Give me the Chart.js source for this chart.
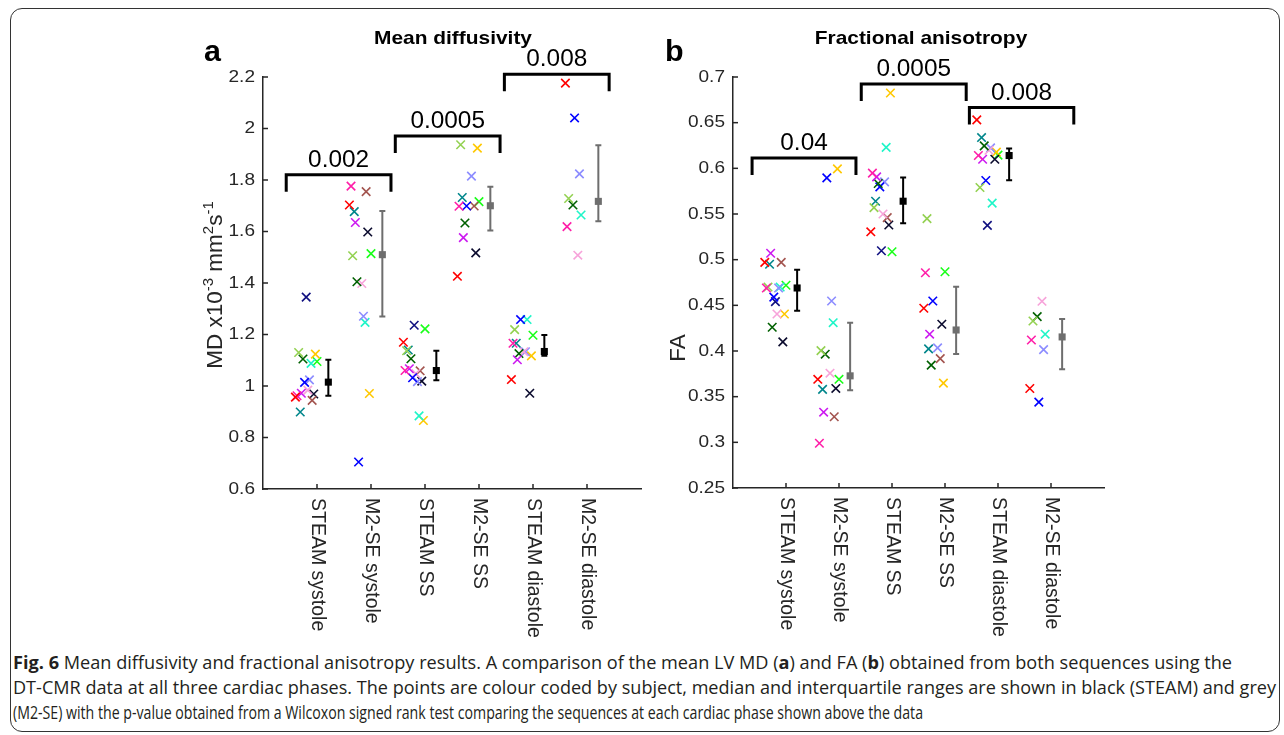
<!DOCTYPE html>
<html>
<head>
<meta charset="utf-8">
<script src="https://cdn.jsdelivr.net/npm/chart.js@4.4.1/dist/chart.umd.min.js"></script>
<style>
  html, body { margin: 0; padding: 0; background: #fff; }
  body { width: 1284px; height: 735px; position: relative; overflow: hidden; }
  .frame { position: absolute; left: 10px; top: 8px; width: 1270px; height: 724px; border: 1.5px solid #333; border-radius: 12px; box-sizing: border-box; }
  canvas { position: absolute; top: 0; }
  #mdChart { left: 150px; }
  #faChart { left: 660px; }
  .caption { position: absolute; left: 13px; font-family: 'Open Sans', sans-serif; font-size: 18px; line-height: 24px; color: #231f20; white-space: nowrap; transform-origin: 0 0; }
</style>
</head>
<body>
<div class="frame"></div>
<canvas id="mdChart" width="510" height="650"></canvas>
<canvas id="faChart" width="470" height="650"></canvas>
<div class="caption" data-w="1219" style="top:650px"><b>Fig. 6</b> Mean diffusivity and fractional anisotropy results. A comparison of the mean LV MD (<b>a</b>) and FA (<b>b</b>) obtained from both sequences using the</div>
<div class="caption" data-w="1263" style="top:675px">DT-CMR data at all three cardiac phases. The points are colour coded by subject, median and interquartile ranges are shown in black (STEAM) and grey</div>
<div class="caption" data-w="910" style="top:700px">(M2-SE) with the p-value obtained from a Wilcoxon signed rank test comparing the sequences at each cardiac phase shown above the data</div>
<script>
const categories = ['STEAM systole', 'M2-SE systole', 'STEAM SS', 'M2-SE SS', 'STEAM diastole', 'M2-SE diastole'];

// subjects, in the order they are spread left to right inside each group
const subjectColors = ['#ff0000', '#ff1ea8', '#93d151', '#00868b', '#cc19f0', '#006000', '#0000ff', '#101080',
                       '#f7a3da', '#8c8cff', '#1ff5c8', '#a3544f', '#0b0b2e', '#ffc800', '#19ff19'];
const subjectOffset = [-0.40, -0.37, -0.34, -0.31, -0.29, -0.26, -0.23, -0.20, -0.17, -0.14, -0.11, -0.09, -0.06, -0.03, 0];

// Mean diffusivity (x10^-3 mm^2/s)
const mdSteamSys = [0.957, 0.962, 1.130, 0.899, 0.972, 1.105, 1.014, 1.345, 0.984, 1.024, 1.088, 0.944, 0.969, 1.124, 1.095];
const mdM2seSys  = [1.703, 1.776, 1.506, 1.677, 1.635, 1.405, 0.705, null, 1.398, 1.271, 1.247, 1.755, 1.598, 0.971, 1.514];
const mdSteamSS  = [1.170, 1.060, 1.137, 1.140, 1.067, 1.106, 1.032, 1.236, 1.048, 1.017, 0.884, 1.059, 1.019, 0.866, 1.222];
const mdM2seSS   = [1.426, 1.698, 1.937, 1.732, 1.576, 1.633, 1.699, null, null, 1.815, null, 1.699, 1.517, 1.924, 1.716];
const mdSteamDia = [1.025, 1.166, 1.219, 1.166, 1.102, 1.126, 1.258, null, 1.133, 1.133, 1.258, null, 0.972, 1.117, 1.197];
const mdM2seDia  = [2.176, 1.619, 1.728, null, null, 1.703, 2.041, null, 1.508, 1.824, 1.664, null, null, null, null];
const mdMedian = [1.015, 1.510, 1.060, 1.700, 1.134, 1.717];
const mdQ1     = [0.962, 1.270, 1.022, 1.604, 1.117, 1.640];
const mdQ3     = [1.102, 1.680, 1.137, 1.774, 1.198, 1.935];
const mdPValues = ['0.002', '0.0005', '0.008'];
const mdBracketStart = [0.43, 2.45, 4.47];
const mdBracketEnd   = [2.37, 4.39, 6.41];
const mdBracketY     = [1.820, 1.971, 2.211];

// Fractional anisotropy
const faSteamSys = [0.497, 0.469, 0.470, 0.495, 0.507, 0.426, 0.459, 0.454, 0.4405, 0.469, 0.470, 0.497, 0.410, 0.4405, 0.472];
const faM2seSys  = [0.369, 0.299, 0.4004, 0.358, 0.333, 0.3965, 0.5896, null, 0.3757, 0.4548, 0.431, 0.328, 0.359, 0.5994, 0.369];
const faSteamSS  = [0.5305, 0.5947, 0.557, 0.564, 0.5907, 0.5834, 0.5797, 0.5098, 0.550, 0.5852, 0.623, 0.546, 0.538, 0.6825, 0.5087];
const faM2seSS   = [0.4468, 0.4857, 0.545, 0.4023, 0.4184, 0.3845, 0.4548, null, null, 0.4034, null, 0.3917, 0.4293, 0.3648, 0.4868];
const faSteamDia = [0.653, 0.614, 0.579, 0.6337, 0.610, 0.6246, 0.5867, 0.5375, 0.6198, 0.6224, 0.5619, null, 0.610, 0.6177, 0.6144];
const faM2seDia  = [0.3589, 0.4121, 0.4329, null, null, 0.4376, 0.344, null, 0.4544, 0.4015, 0.4184, null, null, null, null];
const faMedian = [0.469, 0.3728, 0.564, 0.423, 0.614, 0.4154];
const faQ1     = [0.444, 0.357, 0.540, 0.3968, 0.587, 0.380];
const faQ3     = [0.489, 0.431, 0.590, 0.4704, 0.6217, 0.435];
const faPValues = ['0.04', '0.0005', '0.008'];
const faBracketStart = [0.36, 2.42, 4.46];
const faBracketEnd   = [2.32, 4.40, 6.43];
const faBracketY     = [0.6114, 0.6924, 0.6665];

const medianOffset = 0.21;
const axisColor = '#262626';
const FONT = "'Liberation Sans', Arial, sans-serif";

function drawText(ctx, text, x, y, font, align, sx) {
  ctx.save();
  ctx.font = font;
  ctx.textAlign = align;
  ctx.translate(x, y);
  ctx.scale(sx || 1, 1);
  ctx.fillText(text, 0, 0);
  ctx.restore();
}

function decorPlugin(cfg) {
  return {
    id: 'decor',
    beforeDatasetsDraw(chart) {
      const ctx = chart.ctx, xs = chart.scales.x, ys = chart.scales.y;
      ctx.save();
      ctx.lineWidth = 2;
      cfg.median.forEach((m, i) => {
        const px = xs.getPixelForValue(i + 1 + medianOffset);
        const top = ys.getPixelForValue(cfg.q3[i]);
        const bot = ys.getPixelForValue(cfg.q1[i]);
        ctx.strokeStyle = i % 2 ? '#6e6e6e' : '#000';
        ctx.beginPath();
        ctx.moveTo(px, top); ctx.lineTo(px, bot);
        ctx.moveTo(px - 3, top); ctx.lineTo(px + 3, top);
        ctx.moveTo(px - 3, bot); ctx.lineTo(px + 3, bot);
        ctx.stroke();
      });
      ctx.restore();
    },
    afterDraw(chart) {
      const ctx = chart.ctx, xs = chart.scales.x, ys = chart.scales.y;
      const area = chart.chartArea;
      ctx.save();
      ctx.fillStyle = axisColor;
      ctx.strokeStyle = axisColor;
      ctx.lineWidth = 1.5;
      ctx.textBaseline = 'middle';
      // y ticks, pointing inwards
      ys.ticks.forEach(t => {
        const py = ys.getPixelForValue(t.value);
        ctx.beginPath(); ctx.moveTo(area.left, py); ctx.lineTo(area.left + 5, py); ctx.stroke();
        drawText(ctx, String(+t.value.toFixed(2)), area.left - 8, py, '17px ' + FONT, 'right', 1.12);
      });
      // x category ticks and rotated labels
      categories.forEach((c, i) => {
        const px = xs.getPixelForValue(i + 1);
        ctx.beginPath(); ctx.moveTo(px, area.bottom); ctx.lineTo(px, area.bottom - 5); ctx.stroke();
        ctx.save();
        ctx.translate(px, area.bottom + 9);
        ctx.rotate(Math.PI / 2);
        ctx.font = '19.5px ' + FONT;
        ctx.textAlign = 'left';
        ctx.fillText(c, 0, 0);
        ctx.restore();
      });
      // y axis title with superscripts
      ctx.save();
      ctx.translate(cfg.titleX, cfg.titleY);
      ctx.rotate(-Math.PI / 2);
      ctx.textAlign = 'left';
      ctx.textBaseline = 'alphabetic';
      const big = 22.5, small = 15;
      let total = 0;
      cfg.yTitle.forEach(seg => { ctx.font = (seg[1] ? small : big) + 'px ' + FONT; total += ctx.measureText(seg[0]).width; });
      let cx = -total / 2;
      cfg.yTitle.forEach(seg => {
        ctx.font = (seg[1] ? small : big) + 'px ' + FONT;
        ctx.fillText(seg[0], cx, seg[1] ? -2 : 7);
        cx += ctx.measureText(seg[0]).width;
      });
      ctx.restore();
      // panel title and letter
      ctx.fillStyle = '#000';
      ctx.textBaseline = 'alphabetic';
      drawText(ctx, cfg.title, cfg.titleCenter, 44, 'bold 19px ' + FONT, 'center', 1.1);
      drawText(ctx, cfg.letter, cfg.letterX, 61, 'bold 29px ' + FONT, 'left', 1.05);
      // significance brackets
      ctx.strokeStyle = '#000';
      ctx.lineWidth = 3;
      cfg.pValues.forEach((p, i) => {
        const x1 = xs.getPixelForValue(cfg.bStart[i]);
        const x2 = xs.getPixelForValue(cfg.bEnd[i]);
        const y = ys.getPixelForValue(cfg.bY[i]);
        ctx.beginPath();
        ctx.moveTo(x1, y + 17); ctx.lineTo(x1, y); ctx.lineTo(x2, y); ctx.lineTo(x2, y + 17);
        ctx.stroke();
        drawText(ctx, p, (x1 + x2) / 2, y - 8, '23px ' + FONT, 'center', 1.06);
      });
      ctx.restore();
    }
  };
}

function buildChart(id, groups, cfg) {
  const datasets = subjectColors.map((col, s) => ({
    data: groups.map((g, i) => g[s] === null ? null : { x: i + 1 + subjectOffset[s], y: g[s] }).filter(p => p),
    pointStyle: 'crossRot',
    pointRadius: 6,
    borderColor: col,
    backgroundColor: col,
    pointBorderWidth: 1.6
  }));
  datasets.push({
    data: cfg.median.map((m, i) => ({ x: i + 1 + medianOffset, y: m })).filter((p, i) => i % 2 === 0),
    pointStyle: 'rect', pointRadius: 5, backgroundColor: '#000', borderColor: '#000', pointBorderWidth: 0
  });
  datasets.push({
    data: cfg.median.map((m, i) => ({ x: i + 1 + medianOffset, y: m })).filter((p, i) => i % 2 === 1),
    pointStyle: 'rect', pointRadius: 5, backgroundColor: '#6e6e6e', borderColor: '#6e6e6e', pointBorderWidth: 0
  });

  return new Chart(document.getElementById(id), {
    type: 'scatter',
    data: { datasets },
    options: {
      responsive: false,
      animation: false,
      devicePixelRatio: 1,
      layout: { padding: { top: cfg.padTop, right: cfg.padRight, left: 0, bottom: 0 } },
      plugins: { legend: { display: false }, tooltip: { enabled: false } },
      scales: {
        x: {
          type: 'linear', min: 0, max: 7,
          ticks: { display: false },
          grid: { display: false },
          border: { display: true, color: axisColor, width: 1.5 },
          afterFit: s => { s.height = cfg.xHeight; }
        },
        y: {
          min: cfg.yMin, max: cfg.yMax,
          ticks: { display: false, stepSize: cfg.yStep },
          grid: { display: false },
          border: { display: true, color: axisColor, width: 1.5 },
          afterFit: s => { s.width = cfg.yWidth; }
        }
      }
    },
    plugins: [decorPlugin(cfg)]
  });
}

buildChart('mdChart', [mdSteamSys, mdM2seSys, mdSteamSS, mdM2seSS, mdSteamDia, mdM2seDia], {
  median: mdMedian, q1: mdQ1, q3: mdQ3,
  pValues: mdPValues, bStart: mdBracketStart, bEnd: mdBracketEnd, bY: mdBracketY,
  yMin: 0.6, yMax: 2.2, yStep: 0.2,
  padTop: 77, padRight: 19, yWidth: 113, xHeight: 161,
  title: 'Mean diffusivity', titleCenter: 303, letter: 'a', letterX: 54,
  titleX: 65, titleY: 285,
  yTitle: [['MD x10', false], ['-3', true], [' mm', false], ['2', true], ['s', false], ['-1', true]]
});

buildChart('faChart', [faSteamSys, faM2seSys, faSteamSS, faM2seSS, faSteamDia, faM2seDia], {
  median: faMedian, q1: faQ1, q3: faQ3,
  pValues: faPValues, bStart: faBracketStart, bEnd: faBracketEnd, bY: faBracketY,
  yMin: 0.25, yMax: 0.7, yStep: 0.05,
  padTop: 77, padRight: 26, yWidth: 73, xHeight: 162,
  title: 'Fractional anisotropy', titleCenter: 261, letter: 'b', letterX: 5,
  titleX: 18, titleY: 348,
  yTitle: [['FA', false]]
});

// fit caption lines to the widths in the figure
document.querySelectorAll('.caption').forEach(el => {
  const w = el.getBoundingClientRect().width;
  el.style.transform = 'scaleX(' + (+el.dataset.w / w) + ')';
});
</script>
</body>
</html>
